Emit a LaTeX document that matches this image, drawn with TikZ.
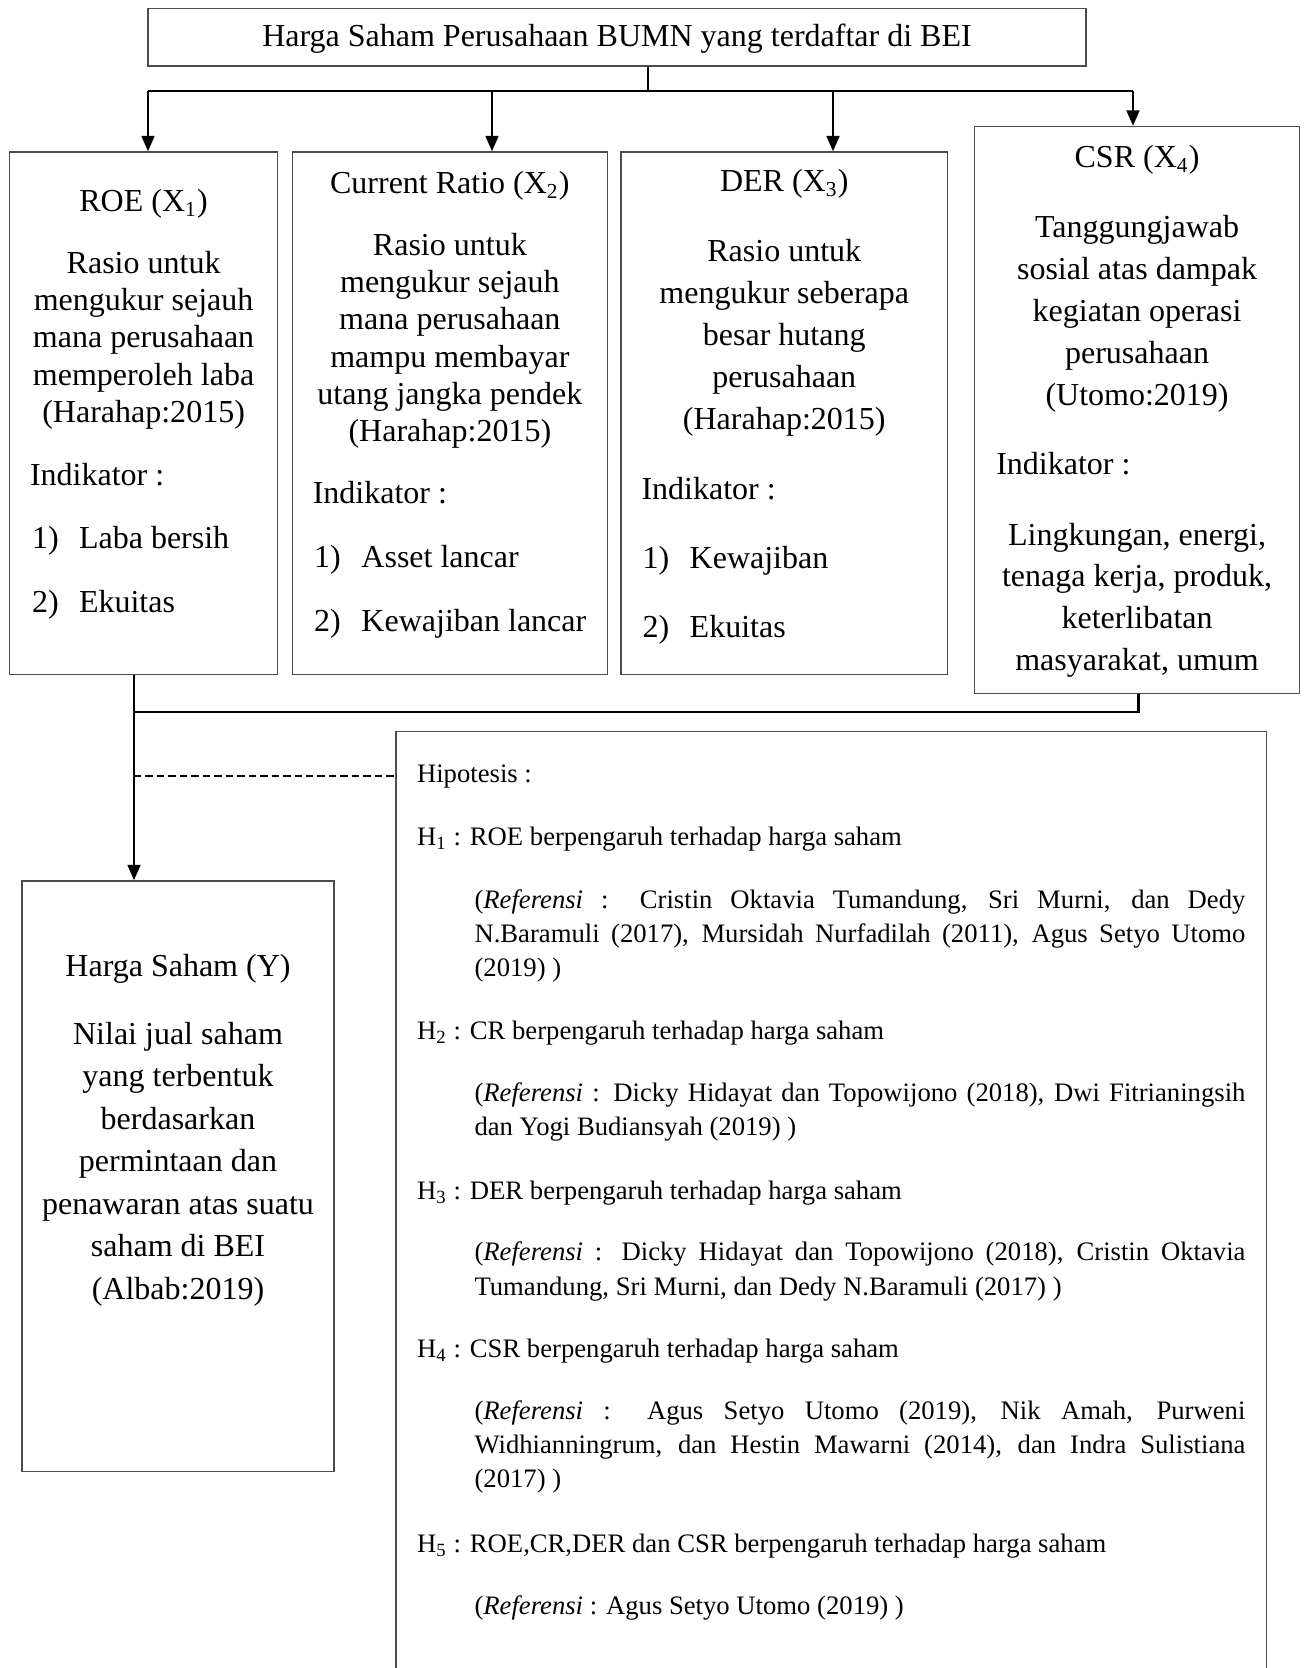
\documentclass[tikz,border=0pt]{standalone}
\usepackage{fontspec}
\setmainfont{Liberation Serif}
\usetikzlibrary{arrows.meta}
\begin{document}
\begin{tikzpicture}[x=0.375pt,y=-0.375pt,
  box/.style={draw=black!70, line width=0.5pt, inner sep=0pt, rectangle},
  bt/.style={inner sep=0pt, anchor=base, font=\fontsize{12}{14}\selectfont},
  btl/.style={inner sep=0pt, anchor=base west, font=\fontsize{12}{14}\selectfont},
  ht/.style={inner sep=0pt, anchor=base west, font=\fontsize{10}{12}\selectfont},
  conn/.style={line width=0.9pt, black},
  arr/.style={-{Triangle[length=5.8pt,width=4.8pt]}},
  dline/.style={line width=0.45pt, black, dash pattern=on 2.8pt off 1.5pt}]
\clip (0,0) rectangle (1303,1668);
\fill[white] (0,0) rectangle (1303,1668);

% ---------- boxes ----------
\node[box, minimum width={938*0.375pt}, minimum height={57.5*0.375pt},
  font=\fontsize{12}{14}\selectfont, text height=9pt, text depth=2pt]
  (title) at (617,37.25) {Harga Saham Perusahaan BUMN yang terdaftar di BEI};
\node[box, minimum width={268*0.375pt}, minimum height={522.6*0.375pt}] (roe) at (143.6,413.3) {};
\node[box, minimum width={314.7*0.375pt}, minimum height={522.6*0.375pt}] (cr) at (449.85,413.3) {};
\node[box, minimum width={326.5*0.375pt}, minimum height={522.6*0.375pt}] (der) at (784.25,413.3) {};
\node[box, minimum width={324.9*0.375pt}, minimum height={567*0.375pt}] (csr) at (1137.05,410) {};
\node[box, minimum width={312*0.375pt}, minimum height={590.5*0.375pt}] (ybox) at (178,1176.2) {};
\node[box, minimum width={870.5*0.375pt}, minimum height={960*0.375pt}] (hipo) at (831.25,1211.7) {};

% ---------- ROE ----------
\node[bt] (roe-t) at (143.6,211.4) {ROE (X\textsubscript{1})};
\foreach \t [count=\i from 0] in {Rasio untuk, mengukur sejauh, mana perusahaan, memperoleh laba, (Harahap:2015)}
  \node[bt] (roe-d\i) at (143.6,273.4+37.25*\i) {\t};
\node[btl] (roe-ind) at (29.5,486) {Indikator :};
\node[btl] (roe-i1) at (31.6,548.4) {\makebox[17.6pt][l]{1)}Laba bersih};
\node[btl] (roe-i2) at (31.6,612.4) {\makebox[17.6pt][l]{2)}Ekuitas};

% ---------- CR ----------
\node[bt] (cr-t) at (449.85,193.5) {Current Ratio (X\textsubscript{2})};
\foreach \t [count=\i from 0] in {Rasio untuk, mengukur sejauh, mana perusahaan, mampu membayar, utang jangka pendek, (Harahap:2015)}
  \node[bt] (cr-d\i) at (449.85,255.6+37.2*\i) {\t};
\node[btl] (cr-ind) at (312.3,503.5) {Indikator :};
\node[btl] (cr-i1) at (313.5,567.4) {\makebox[17.8pt][l]{1)}Asset lancar};
\node[btl] (cr-i2) at (313.5,631) {\makebox[17.8pt][l]{2)}Kewajiban lancar};

% ---------- DER ----------
\node[bt] (der-t) at (784.25,192) {DER (X\textsubscript{3})};
\foreach \t [count=\i from 0] in {Rasio untuk, mengukur seberapa, besar hutang, perusahaan, (Harahap:2015)}
  \node[bt] (der-d\i) at (784.25,261.4+42*\i) {\t};
\node[btl] (der-ind) at (641,499.4) {Indikator :};
\node[btl] (der-i1) at (642,568) {\makebox[17.7pt][l]{1)}Kewajiban};
\node[btl] (der-i2) at (642,637.5) {\makebox[17.7pt][l]{2)}Ekuitas};

% ---------- CSR ----------
\node[bt] (csr-t) at (1137.05,168) {CSR (X\textsubscript{4})};
\foreach \t [count=\i from 0] in {Tanggungjawab, sosial atas dampak, kegiatan operasi, perusahaan, (Utomo:2019)}
  \node[bt] (csr-d\i) at (1137.05,237.1+42.15*\i) {\t};
\node[btl] (csr-ind) at (995.7,474.8) {Indikator :};
\foreach \t [count=\i from 0] in {{Lingkungan, energi,}, {tenaga kerja, produk,}, keterlibatan, {masyarakat, umum}}
  \node[bt] (csr-i\i) at (1137.05,545+41.9*\i) {\t};

% ---------- Harga Saham (Y) ----------
\node[bt] (y-t) at (178,976.4) {Harga Saham (Y)};
\foreach \t [count=\i from 0] in {Nilai jual saham, yang terbentuk, berdasarkan, permintaan dan, penawaran atas suatu, saham di BEI, (Albab:2019)}
  \node[bt] (y-d\i) at (178,1044.4+42.5*\i) {\t};

% ---------- Hipotesis ----------
\def\jw{289.1pt}
\node[ht] (hp) at (416.5,782) {Hipotesis :};
\node[ht] (h1) at (416.5,845) {H\textsubscript{1} : ROE berpengaruh terhadap harga saham};
\node[ht] (h1a) at (474,908.5) {\makebox[\jw][s]{(\textit{Referensi} : Cristin Oktavia Tumandung, Sri Murni, dan Dedy}};
\node[ht] (h1b) at (474,942.5) {\makebox[\jw][s]{N.Baramuli (2017), Mursidah Nurfadilah (2011), Agus Setyo Utomo}};
\node[ht] (h1c) at (474,976.5) {(2019) )};
\node[ht] (h2) at (416.5,1039.5) {H\textsubscript{2} : CR berpengaruh terhadap harga saham};
\node[ht] (h2a) at (474,1101.5) {\makebox[\jw][s]{(\textit{Referensi} : Dicky Hidayat dan Topowijono (2018), Dwi Fitrianingsih}};
\node[ht] (h2b) at (474,1135.5) {dan Yogi Budiansyah (2019) )};
\node[ht] (h3) at (416.5,1199.5) {H\textsubscript{3} : DER berpengaruh terhadap harga saham};
\node[ht] (h3a) at (474,1260.5) {\makebox[\jw][s]{(\textit{Referensi} : Dicky Hidayat dan Topowijono (2018), Cristin Oktavia}};
\node[ht] (h3b) at (474,1295.5) {Tumandung, Sri Murni, dan Dedy N.Baramuli (2017) )};
\node[ht] (h4) at (416.5,1357.5) {H\textsubscript{4} : CSR berpengaruh terhadap harga saham};
\node[ht] (h4a) at (474,1419.5) {\makebox[\jw][s]{(\textit{Referensi} : Agus Setyo Utomo (2019), Nik Amah, Purweni}};
\node[ht] (h4b) at (474,1453.5) {\makebox[\jw][s]{Widhianningrum, dan Hestin Mawarni (2014), dan Indra Sulistiana}};
\node[ht] (h4c) at (474,1487.5) {(2017) )};
\node[ht] (h5) at (416.5,1552.5) {H\textsubscript{5} : ROE,CR,DER dan CSR berpengaruh terhadap harga saham};
\node[ht] (h5a) at (474,1614.5) {(\textit{Referensi} : Agus Setyo Utomo (2019) )};

% ---------- connectors ----------
\coordinate (jtop) at (648,91);
\coordinate (jl) at (148,91);
\coordinate (j2) at (492,91);
\coordinate (j3) at (833,91);
\coordinate (jr) at (1133,91);
\draw[conn] (title.south -| jtop) -- (jtop);
\draw[conn] (jl) -- (jr);
\draw[conn,arr] (jl) -- (jl |- roe.north);
\draw[conn,arr] (j2) -- (j2 |- cr.north);
\draw[conn,arr] (j3) -- (j3 |- der.north);
\draw[conn,arr] (jr) -- (jr |- csr.north);

\coordinate (b1) at (134,712);
\coordinate (b2) at (1138.5,712);
\coordinate (d1) at (134,776);
\draw[conn] (roe.south -| b1) -- (b1);
\draw[conn,arr] (b1) -- (b1 |- ybox.north);
\draw[conn] (csr.south -| b2) -- (b2) -- (b1);
\draw[dline] (d1) -- (d1 -| hipo.west);
\end{tikzpicture}
\end{document}
